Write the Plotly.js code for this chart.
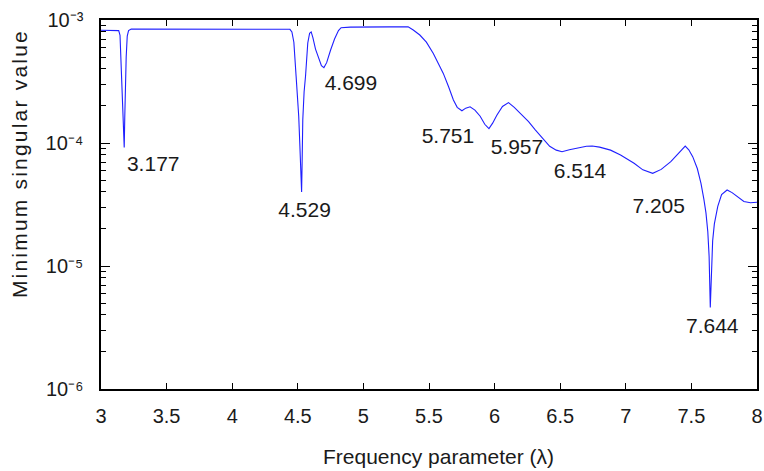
<!DOCTYPE html>
<html>
<head>
<meta charset="utf-8">
<script src="https://cdn.plot.ly/plotly-3.0.1.min.js"></script>
<style>
  html, body { margin: 0; padding: 0; background: #fff; }
  #chart { width: 764px; height: 471px; }
  /* wider tracking for the vertical axis title */
  #chart .annotation[data-index="0"] text { letter-spacing: 2.2px; }
</style>
</head>
<body>
<div id="chart"></div>
<script>
// Frequency sweep (lambda) and the minimum singular value at each step
const freq = [
  3.00, 3.10, 3.135, 3.145, 3.152, 3.160, 3.166, 3.172, 3.177, 3.181, 3.186, 3.192, 3.200, 3.210, 3.23,
  4.40, 4.44, 4.455, 4.47, 4.487, 4.50, 4.507, 4.515, 4.522, 4.529, 4.533, 4.538, 4.548, 4.559, 4.576,
  4.590, 4.602, 4.615, 4.635, 4.66, 4.68, 4.699, 4.72, 4.75, 4.78, 4.81, 4.83, 4.90, 5.00, 5.20, 5.341,
  5.38, 5.43, 5.48, 5.533, 5.57, 5.609, 5.65, 5.686, 5.715, 5.751, 5.78, 5.813, 5.85, 5.89, 5.925, 5.957,
  5.985, 6.017, 6.06, 6.106, 6.15, 6.20, 6.259, 6.31, 6.374, 6.42, 6.47, 6.514, 6.57, 6.63, 6.70, 6.744,
  6.80, 6.884, 6.96, 7.063, 7.13, 7.205, 7.27, 7.343, 7.40, 7.453, 7.48, 7.51, 7.545, 7.573, 7.595, 7.611,
  7.625, 7.635, 7.644, 7.652, 7.662, 7.675, 7.701, 7.73, 7.772, 7.81, 7.854, 7.90, 7.95, 8.00
];
const minSingular = [
  8.25e-4, 8.25e-4, 8.2e-4, 7.5e-4, 5.0e-4, 3.3e-4, 2.2e-4, 1.2e-4, 9.2e-5, 1.6e-4, 3.0e-4, 5.0e-4, 7.4e-4, 8.2e-4, 8.45e-4,
  8.45e-4, 8.4e-4, 8.0e-4, 6.6e-4, 3.5e-4, 2.2e-4, 1.65e-4, 1.0e-4, 6.5e-5, 4.0e-5, 7.0e-5, 1.55e-4, 2.6e-4, 3.5e-4, 6.5e-4,
  7.8e-4, 8.0e-4, 7.2e-4, 5.8e-4, 4.8e-4, 4.25e-4, 4.1e-4, 4.5e-4, 5.7e-4, 7.0e-4, 8.2e-4, 8.65e-4, 8.75e-4, 8.8e-4, 8.8e-4, 8.8e-4,
  8.3e-4, 7.55e-4, 6.6e-4, 5.35e-4, 4.4e-4, 3.68e-4, 2.85e-4, 2.24e-4, 1.95e-4, 1.83e-4, 1.92e-4, 1.97e-4, 1.85e-4, 1.65e-4, 1.42e-4, 1.31e-4,
  1.45e-4, 1.68e-4, 1.98e-4, 2.13e-4, 1.95e-4, 1.72e-4, 1.49e-4, 1.28e-4, 1.07e-4, 9.4e-5, 8.75e-5, 8.5e-5, 8.8e-5, 9.1e-5, 9.4e-5, 9.45e-5,
  9.25e-5, 8.75e-5, 8.0e-5, 6.85e-5, 6.05e-5, 5.67e-5, 6.1e-5, 7.05e-5, 8.2e-5, 9.45e-5, 8.8e-5, 7.75e-5, 6.2e-5, 4.7e-5, 3.5e-5, 2.7e-5,
  1.9e-5, 1.2e-5, 4.6e-6, 1.0e-5, 1.6e-5, 2.2e-5, 3.05e-5, 3.8e-5, 4.15e-5, 3.95e-5, 3.67e-5, 3.35e-5, 3.27e-5, 3.3e-5
];

// Local minima (resonance frequencies) labelled on the curve
const dipFreqs = [3.177, 4.529, 4.699, 5.751, 5.957, 6.514, 7.205, 7.644];
// label offsets in pixels from each minimum (right / up positive)
const dipShiftX = [29, 3, 27, -14, 28, 18, 6, 2];
const dipShiftY = [-18, -20, -17, -27, -20, -21, -34, -20];

// Axis ticks
const xTicks = [3, 3.5, 4, 4.5, 5, 5.5, 6, 6.5, 7, 7.5, 8];
const xTickText = ['3', '3.5', '4', '4.5', '5', '5.5', '6', '6.5', '7', '7.5', '8'];
const yTicks = [1e-6, 1e-5, 1e-4, 1e-3];
const yTickText = ['10\u207B\u2076', '10\u207B\u2075', '10\u207B\u2074', '10\u207B\u00B3'];

const FONT = '"Liberation Sans", Arial, Helvetica, sans-serif';
const TEXT_COLOR = '#1a1a1a';

// plot box geometry, used to turn the pixel offsets of the labels into axis units
const W = 764, H = 471;
const M = { l: 101, r: 7, t: 20, b: 82 };
const X_RANGE = [3, 8];
const Y_RANGE = [-6, -3];
const pxPerX = (W - M.l - M.r) / (X_RANGE[1] - X_RANGE[0]);
const pxPerDecade = (H - M.t - M.b) / (Y_RANGE[1] - Y_RANGE[0]);

const yMinor = [];
yTicks.slice(0, 3).forEach(d => { for (let k = 2; k <= 9; k++) yMinor.push(d * k); });

const labelX = [], labelY = [], labelText = [];
dipFreqs.forEach((f, i) => {
  const v = minSingular[freq.indexOf(f)];
  labelX.push(f + dipShiftX[i] / pxPerX);
  labelY.push(v * Math.pow(10, dipShiftY[i] / pxPerDecade));
  labelText.push(f.toFixed(3));
});

const curve = {
  x: freq, y: minSingular, type: 'scatter', mode: 'lines',
  line: { color: '#1f1fff', width: 1.1 },
  hoverinfo: 'x+y'
};

const dipLabels = {
  x: labelX, y: labelY, text: labelText, type: 'scatter', mode: 'text',
  textposition: 'middle center',
  textfont: { family: FONT, size: 21, color: TEXT_COLOR },
  hoverinfo: 'skip', cliponaxis: false
};

const axisCommon = {
  showline: true, linecolor: '#000', linewidth: 1.6, mirror: 'ticks',
  ticks: 'inside', tickcolor: '#000', tickwidth: 1,
  showgrid: false, zeroline: false,
  tickfont: { family: FONT, size: 20, color: TEXT_COLOR }
};

const layout = {
  width: W, height: H,
  margin: M,
  paper_bgcolor: '#fff', plot_bgcolor: '#fff',
  showlegend: false,
  xaxis: Object.assign({}, axisCommon, {
    range: X_RANGE, tickmode: 'array', tickvals: xTicks, ticktext: xTickText,
    ticklen: 6, ticklabelstandoff: 8
  }),
  yaxis: Object.assign({}, axisCommon, {
    type: 'log', range: Y_RANGE, tickmode: 'array', tickvals: yTicks, ticktext: yTickText,
    ticklen: 9, ticklabelstandoff: 12,
    minor: { tickmode: 'array', tickvals: yMinor, ticks: 'inside', ticklen: 5, tickcolor: '#000', tickwidth: 1 }
  }),
  annotations: [
    { text: 'Minimum singular value', textangle: -90, showarrow: false,
      xref: 'paper', yref: 'paper', x: (20 - M.l) / (W - M.l - M.r), y: 0.61,
      xanchor: 'center', yanchor: 'middle',
      font: { family: FONT, size: 21, color: TEXT_COLOR } },
    { text: 'Frequency parameter (λ)', showarrow: false,
      xref: 'paper', yref: 'paper', x: 0.514, y: -0.184,
      xanchor: 'center', yanchor: 'middle',
      font: { family: FONT, size: 21, color: TEXT_COLOR } }
  ]
};

Plotly.newPlot('chart', [curve, dipLabels], layout, { displayModeBar: false, staticPlot: true });
</script>
</body>
</html>
